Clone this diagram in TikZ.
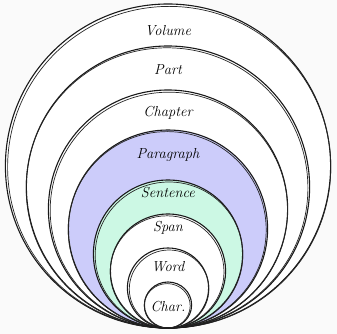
\documentclass[tikz,border=0pt]{standalone}
\usetikzlibrary{calc}
\definecolor{bgc}{RGB}{250,250,250}
\definecolor{parac}{RGB}{204,204,250}
\definecolor{sentc}{RGB}{204,248,228}
\tikzset{
  ring/.style={line width=1.1pt, draw=black!90},
  ringb/.style={line width=0.7pt, draw=black!85},
  lbl/.style={font=\fontsize{14.5}{16}\selectfont\itshape, text=black, inner sep=0pt}
}
\begin{document}
\begin{tikzpicture}[x=1pt,y=1pt]
\fill[bgc] (0,0) rectangle (337,334);
\useasboundingbox (0,0) rectangle (337,334);
\coordinate (base) at (168,6);
% fills
\fill[white] (168,168) circle (162);
\fill[parac] (168,105) circle (99);
\fill[sentc] (168,80) circle (74);
\fill[white] (168,63) circle (57);
% rings (two sketchy strokes each)
\foreach \r/\dx/\dr in {162/1.2/2.4, 141/-1.0/1.8, 119/0.9/2.2, 99/-0.8/1.6, 74/1.0/2.0, 57/-0.9/1.8, 40/1.1/2.0, 23/-0.8/1.6}{
  \draw[ring] (168,6+\r) ellipse ({\r+0.6} and \r);
  \draw[ringb] ({168+\dx},{6+\r-\dr/2}) ellipse ({\r-\dr/2+0.8} and {\r-\dr/2});
}
% labels
\node[lbl] (volume) at (168,303) {Volume};
\node[lbl] (part) at (168,264) {Part};
\node[lbl] (chapter) at (168,221) {Chapter};
\node[lbl] (paragraph) at (168,179) {Paragraph};
\node[lbl] (sentence) at (168,141) {Sentence};
\node[lbl] (span) at (168,106) {Span};
\node[lbl] (word) at (168,67) {Word};
\node[lbl] (char) at (168,27) {Char.};
\end{tikzpicture}
\end{document}
